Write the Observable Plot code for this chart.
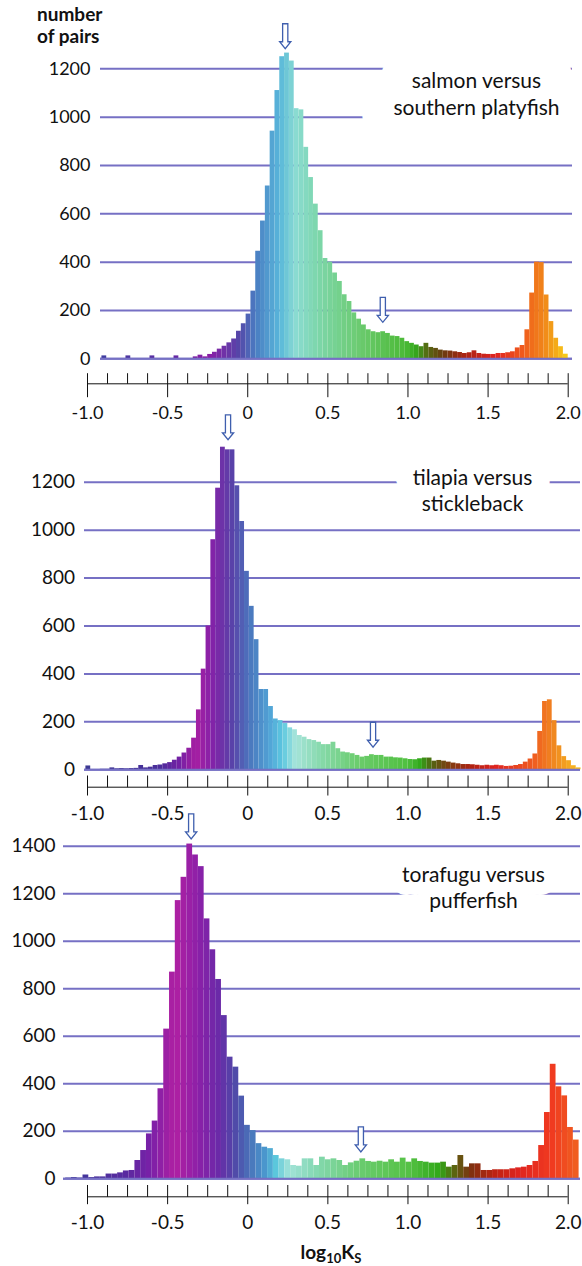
<!DOCTYPE html>
<html><head><meta charset="utf-8">
<script src="https://cdn.jsdelivr.net/npm/d3@7"></script>
<script src="https://cdn.jsdelivr.net/npm/@observablehq/plot@0.6"></script>
<style>
body{margin:0;background:#fff;}
#wrap{position:relative;width:582px;height:1266px;overflow:hidden;font-family:Lato,sans-serif;color:#111;}
.panel{position:absolute;left:0;}
#ylab{position:absolute;left:37px;top:3px;font-weight:bold;font-size:19px;line-height:22px;}
#xlab{position:absolute;left:231px;width:200px;top:1240px;text-align:center;font-weight:bold;font-size:19px;line-height:24px;}
#xlab sub{font-size:13px;vertical-align:-4px;line-height:0;}
</style></head><body>
<div id="wrap">
  <div id="ylab">number<br>of pairs</div>
  <div id="xlab">log<sub>10</sub>K<sub>S</sub></div>
</div>
<script>
// ---------- data ----------
const xMajorTicks = [-1.0, -0.5, 0, 0.5, 1.0, 1.5, 2.0];
const xTickLabels = ["-1.0", "-0.5", "0", "0.5", "1.0", "1.5", "2.0"];
const xMinorTicks = [-0.875, -0.75, -0.625, -0.375, -0.25, -0.125, 0.125, 0.25, 0.375, 0.625, 0.75, 0.875,
  1.125, 1.25, 1.375, 1.625, 1.75, 1.875];

const titles = ["salmon versus\nsouthern platyfish", "tilapia versus\nstickleback", "torafugu versus\npufferfish"];

// panel 1: salmon vs southern platyfish (bins of 0.03 from -0.91)
const p1BinStart = -0.91, p1BinWidth = 0.03;
const p1Counts = [12,0,0,0,0,12,0,0,0,0,12,0,0,0,0,12,0,0,0,8,
  15,8,18,27,40,52,66,82,114,145,185,280,445,570,715,942,1110,1250,1265,1232,
  1035,1030,875,750,640,530,415,400,355,320,265,237,190,164,140,120,112,108,112,105,
  94,92,85,71,64,57,50,64,47,43,36,33,32,29,26,22,25,33,22,19,
  18,18,22,22,25,29,45,55,120,272,400,398,264,154,85,50,19];
const p1YTicks = [0, 200, 400, 600, 800, 1000, 1200];
const p1ArrowX = [0.234, 0.843];
const p1ArrowY = [1283, 151];
const p1StopX = [-0.95, -0.4, -0.25, -0.05, 0.05, 0.2, 0.3, 0.45, 0.7, 0.98, 1.05, 1.12, 1.22, 1.35, 1.55, 1.72, 1.85, 2.0];
const p1StopC = ["#3b3f9e", "#6a26a4", "#8e1aa6", "#5546a8", "#4a7cc2", "#58b6da", "#8adbd2", "#7cd6a8", "#6ccb70", "#4cba38", "#34aa1e", "#556a12", "#6a3c10", "#a82412", "#e02420", "#f05a1c", "#f0861a", "#f8d018"];

// panel 2: tilapia vs stickleback (bins of 0.03 from -1.01)
const p2BinStart = -1.01, p2BinWidth = 0.03;
const p2Counts = [16,1,1,2,2,8,4,5,4,5,6,18,8,11,18,20,25,30,40,53,
  70,90,132,250,420,600,960,1175,1346,1335,1335,1185,1036,828,682,543,335,335,264,212,
  205,193,175,167,143,136,126,122,115,105,105,115,88,74,71,67,60,53,56,63,
  60,60,53,53,50,49,46,43,42,46,49,49,36,39,36,32,28,25,22,22,
  21,19,17,19,17,19,17,14,15,18,22,32,45,66,160,285,292,205,100,55,
  38,17,8];
const p2YTicks = [0, 200, 400, 600, 800, 1000, 1200];
const p2ArrowX = [-0.123, 0.782];
const p2ArrowY = [1377, 94];
const p2StopX = [-1.05, -0.55, -0.42, -0.32, -0.22, -0.1, 0.03, 0.15, 0.22, 0.3, 0.45, 0.7, 1.0, 1.08, 1.15, 1.25, 1.4, 1.55, 1.8, 1.92, 2.08];
const p2StopC = ["#3a3a92", "#4a2e9a", "#7420a4", "#a81ea2", "#8422a8", "#5a40a8", "#4a7cc0", "#52a8d8", "#5cc8e0", "#a6e4da", "#88daae", "#6acc6a", "#50c040", "#30a818", "#526412", "#7a4010", "#b02212", "#e02420", "#f06020", "#f08a20", "#f8c020"];

// panel 3: torafugu vs pufferfish (bins of 0.036 from -1.136)
const p3BinStart = -1.136, p3BinWidth = 0.036;
const p3Counts = [3,5,3,16,5,8,8,20,20,25,33,35,77,119,189,243,379,630,870,1171,
  1269,1409,1363,1314,1094,964,839,687,512,470,348,225,203,148,133,127,98,84,80,56,
  53,84,84,56,91,80,84,77,56,67,74,84,73,70,74,70,80,70,87,70,
  84,73,70,66,66,70,49,56,98,49,63,63,35,35,38,38,38,42,46,49,
  56,73,140,279,482,387,349,216,163];
const p3YTicks = [0, 200, 400, 600, 800, 1000, 1200, 1400];
const p3ArrowX = [-0.353, 0.706];
const p3ArrowY = [1431, 113];
const p3StopX = [-1.15, -0.75, -0.6, -0.45, -0.3, -0.18, -0.08, 0.02, 0.12, 0.18, 0.26, 0.4, 0.7, 1.0, 1.2, 1.3, 1.4, 1.55, 1.7, 1.9, 2.08];
const p3StopC = ["#3a3a98", "#5a2aa0", "#7a20a8", "#b020a2", "#8a20a8", "#6a2aa8", "#5048a8", "#4a74ba", "#4a9cd0", "#5cc8dc", "#a2e2d8", "#88dab8", "#6acc70", "#56c246", "#30a818", "#5e6010", "#803010", "#c02212", "#e02420", "#f03a20", "#f06420"];

// ---------- drawing ----------
const gridColor = "#7670c4";
const arrowColor = "#3f5fae";
const arrowShape = {draw(ctx, l) {
  const sw = 2.6, hw = 5.6, hl = 7;
  ctx.moveTo(-sw, 0); ctx.lineTo(-sw, -(l - hl)); ctx.lineTo(-hw, -(l - hl)); ctx.lineTo(0, -l);
  ctx.lineTo(hw, -(l - hl)); ctx.lineTo(sw, -(l - hl)); ctx.lineTo(sw, 0); ctx.closePath();
}};
const tickShape = {draw(ctx, l) { ctx.moveTo(0, 0); ctx.lineTo(0, -l); }};

function panel(cfg) {
  const bins = cfg.counts.map((c, i) => ({
    x1: cfg.binStart + i * cfg.binWidth,
    x2: cfg.binStart + (i + 1) * cfg.binWidth,
    count: c
  }));
  const arrows = cfg.arrowX.map((x, i) => ({x, y: cfg.arrowY[i]}));
  const yMax = cfg.yTicks[cfg.yTicks.length - 1];
  const titleOpts = {frameAnchor: "top-left", dx: cfg.titleX - cfg.gridLeft, dy: cfg.titleY,
    text: d => d, textAnchor: "middle", lineAnchor: "middle", lineHeight: cfg.titleLH, fontSize: cfg.titleFont};
  return Plot.plot({
    width: 582, height: cfg.height,
    marginLeft: cfg.gridLeft, marginRight: 582 - cfg.gridRight, marginTop: 0, marginBottom: 0,
    style: {background: "transparent", overflow: "visible", fontFamily: "Lato, sans-serif", color: "#111"},
    x: {domain: [-1, 2], range: [87, 567.7], axis: null},
    y: {domain: [0, yMax], range: [cfg.zeroY, cfg.topY], axis: null},
    color: {type: "linear", domain: cfg.stopX, range: cfg.stopC, interpolate: "rgb"},
    marks: [
      Plot.gridY(cfg.yTicks, {stroke: gridColor, strokeOpacity: 1, strokeWidth: 2}),
      // white box behind the panel title that interrupts the grid lines
      Plot.text([cfg.title], {...titleOpts, fill: "white", stroke: "white", strokeWidth: cfg.halo, strokeLinejoin: "round"}),
      Plot.rect(bins, {x1: "x1", x2: "x2", y1: 0, y2: "count", fill: d => (d.x1 + d.x2) / 2}),
      Plot.ruleY([0], {stroke: gridColor, strokeWidth: 2}),
      Plot.axisY({ticks: cfg.yTicks, tickSize: 0, tickPadding: cfg.tickPad, fontSize: cfg.yFont,
        tickFormat: d => String(d), label: null}),
      Plot.ruleY([0], {x1: xMajorTicks[0], x2: xMajorTicks[xMajorTicks.length - 1], dy: cfg.axisDy, stroke: "#111", strokeWidth: 1}),
      Plot.vector(xMinorTicks, {x: d => d, y: 0, dy: cfg.axisDy, anchor: "start", length: cfg.minorUp,
        shape: tickShape, stroke: "#111", strokeWidth: 1, strokeLinecap: "butt"}),
      Plot.vector(xMajorTicks, {x: d => d, y: 0, dy: cfg.axisDy + cfg.majorDown, anchor: "start",
        length: cfg.minorUp + cfg.majorDown, shape: tickShape, stroke: "#111", strokeWidth: 1, strokeLinecap: "butt"}),
      Plot.text(xMajorTicks, {x: d => d, y: 0, dy: cfg.labelDy, text: (d, i) => xTickLabels[i],
        fontSize: cfg.xFont, fill: "#111"}),
      Plot.text([cfg.title], {...titleOpts, fill: "#111"}),
      Plot.vector(arrows, {x: "x", y: "y", anchor: "end", rotate: 180, length: 25, shape: arrowShape,
        fill: "white", stroke: arrowColor, strokeWidth: 1.3, strokeLinejoin: "miter"})
    ]
  });
}

const configs = [
  {top: 0, height: 420, counts: p1Counts, binStart: p1BinStart, binWidth: p1BinWidth, yTicks: p1YTicks,
   zeroY: 358.3, topY: 68.3, gridLeft: 100, gridRight: 572, tickPad: 10, yFont: 18,
   axisDy: 25, minorUp: 10.6, majorDown: 13.4, labelDy: 54, xFont: 18,
   title: titles[0], titleX: 476, titleY: 92.5, titleFont: 21, titleLH: 27 / 21, halo: 64,
   arrowX: p1ArrowX, arrowY: p1ArrowY, stopX: p1StopX, stopC: p1StopC},
  {top: 415, height: 415, counts: p2Counts, binStart: p2BinStart, binWidth: p2BinWidth, yTicks: p2YTicks,
   zeroY: 354.3, topY: 66.7, gridLeft: 84, gridRight: 580, tickPad: 9.5, yFont: 19,
   axisDy: 17.4, minorUp: 11.7, majorDown: 8.3, labelDy: 43.7, xFont: 19,
   title: titles[1], titleX: 472, titleY: 74, titleFont: 21, titleLH: 26 / 21, halo: 36,
   arrowX: p2ArrowX, arrowY: p2ArrowY, stopX: p2StopX, stopC: p2StopC},
  {top: 800, height: 436, counts: p3Counts, binStart: p3BinStart, binWidth: p3BinWidth, yTicks: p3YTicks,
   zeroY: 378.3, topY: 45.7, gridLeft: 63, gridRight: 580, tickPad: 8, yFont: 19,
   axisDy: 18, minorUp: 11.8, majorDown: 7.4, labelDy: 43.7, xFont: 19,
   title: titles[2], titleX: 473, titleY: 86, titleFont: 21, titleLH: 26.6 / 21, halo: 26,
   arrowX: p3ArrowX, arrowY: p3ArrowY, stopX: p3StopX, stopC: p3StopC}
];

const wrap = document.getElementById("wrap");
configs.forEach(cfg => {
  const div = document.createElement("div");
  div.className = "panel";
  div.style.top = cfg.top + "px";
  div.appendChild(panel(cfg));
  wrap.insertBefore(div, wrap.firstChild);
});
</script>
</body></html>
